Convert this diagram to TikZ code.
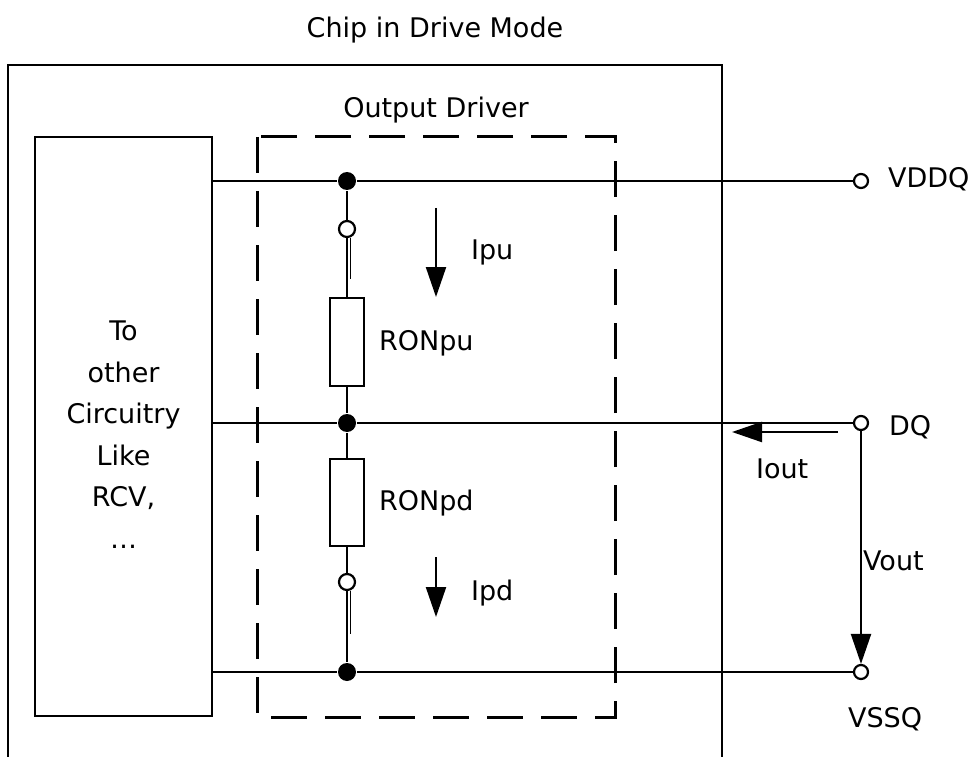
\documentclass[tikz,border=0pt]{standalone}
\usepackage{fontspec}
\setmainfont{DejaVu Sans}
\usetikzlibrary{arrows.meta}
\tikzset{
  txt/.style={font=\fontsize{27}{41.5}\selectfont, inner sep=0pt, anchor=base},
  dot/.style={circle, fill=black, inner sep=0pt, minimum size=18pt},
  term/.style={circle, draw, fill=white, inner sep=0pt, minimum size=14pt},
  switchpt/.style={circle, draw, fill=white, inner sep=0pt, minimum size=16pt},
  resistor/.style={draw, fill=white, inner sep=0pt, minimum width=34pt},
  blockbox/.style={draw, inner sep=0pt},
  current/.style={-{Triangle[length=30pt,width=20pt]}},
  dashbox/.style={line width=3pt, dash pattern=on 36pt off 18pt}
}
\begin{document}
\begin{tikzpicture}[x=1pt, y=-1pt, line width=2.2pt]
    \useasboundingbox (0,0) rectangle (970,757);

    % chip outline
    \draw (8,757) -- (8,65) -- (722,65) -- (722,757);
    \node[txt] (title) at (435,38) {Chip in Drive Mode};

    % output driver
    \draw[dashbox] (257,137) rectangle (615,717);
    \node[txt] (drvtxt) at (436,118) {Output Driver};

    \node[blockbox, minimum width=177pt, minimum height=579pt] (circ) at (123.5,426.5) {};
    \node[txt, anchor=center, align=center] (circtxt) at ([yshift=-8pt]circ.center)
        {To\\other\\Circuitry\\Like\\RCV,\\…};

    \node[dot] (vddDot) at (347,181) {};
    \node[dot] (dqDot) at (347,423) {};
    \node[dot] (vssDot) at (347,672) {};
    \node[switchpt] (swpu) at (347,229) {};
    \node[switchpt] (swpd) at (347,582) {};
    \node[resistor, minimum height=88pt] (ronpu) at (347,342) {};
    \node[resistor, minimum height=87pt] (ronpd) at (347,502.5) {};

    \node[term] (vddq) at (861,181) {};
    \node[term] (dq) at (861,423) {};
    \node[term] (vssq) at (861,672) {};

    % rails
    \draw (circ.east |- vddDot) -- (vddDot) -- (vddq);
    \draw (circ.east |- dqDot) -- (dqDot) -- (dq);
    \draw (circ.east |- vssDot) -- (vssDot) -- (vssq);

    % driver leg
    \draw (vddDot) -- (swpu) -- (ronpu) -- (dqDot) -- (ronpd) -- (swpd) -- (vssDot);
    \draw[line width=1.5pt] ([xshift=3.3pt]swpu.south) -- ++(0,41);
    \draw[line width=1.5pt] ([xshift=3.3pt]swpd.south) -- ++(0,43);

    % currents
    \coordinate (ipuA) at (436,208);
    \coordinate (ipuB) at (436,297);
    \coordinate (ipdA) at (436,557);
    \coordinate (ipdB) at (436,617);
    \coordinate (ioutA) at (838,432);
    \coordinate (ioutB) at (732,432);
    \draw[current] (ipuA) -- (ipuB);
    \draw[current] (ipdA) -- (ipdB);
    \draw[current] (ioutA) -- (ioutB);
    \draw[current] (dq) -- (vssq);

    \node[txt, anchor=base west] (ronputxt) at (378,350) {RONpu};
    \node[txt, anchor=base west] (ronpdtxt) at (378,510) {RONpd};
    \node[txt, anchor=base west] (iputxt) at (470,259) {Ipu};
    \node[txt, anchor=base west] (ipdtxt) at (470,600) {Ipd};
    \node[txt, anchor=base west] (iouttxt) at (755,478) {Iout};
    \node[txt, anchor=base west] (vouttxt) at (862,570) {Vout};
    \node[txt, anchor=base west] (vddqtxt) at (887,188) {VDDQ};
    \node[txt, anchor=base west] (dqtxt) at (888,435) {DQ};
    \node[txt, anchor=base west] (vssqtxt) at (847,727) {VSSQ};
\end{tikzpicture}
\end{document}
